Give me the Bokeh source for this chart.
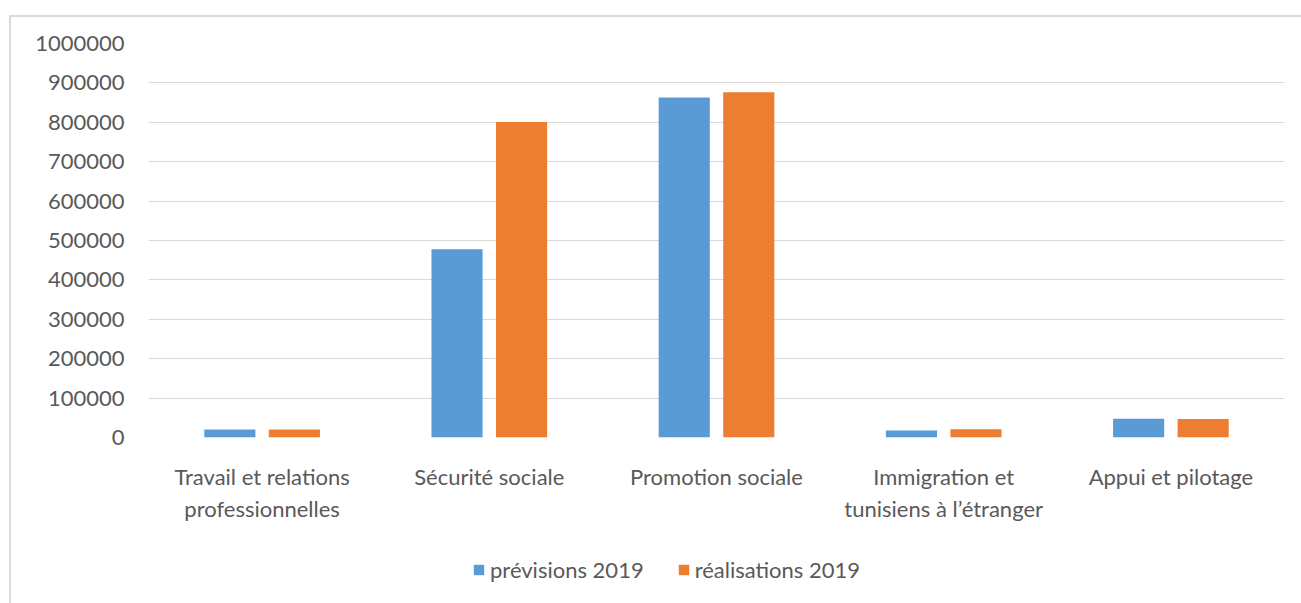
from bokeh.plotting import figure
from bokeh.layouts import column
from bokeh.models import FactorRange, Range1d, Legend, LegendItem, ColumnDataSource, SingleIntervalTicker
from bokeh.transform import dodge
from bokeh.embed import file_html
from bokeh.resources import INLINE

categories = ["Travail et relations\nprofessionnelles", "Sécurité sociale", "Promotion sociale",
              "Immigration et\ntunisiens à l’étranger", "Appui et pilotage"]
previsions_2019 = [20000, 478000, 863000, 17500, 47500]
realisations_2019 = [20500, 801000, 876000, 21000, 47000]
series_names = ["prévisions 2019", "réalisations 2019"]
series_colors = ["#5b9bd5", "#ed7d31"]

FONT = "Lato"
TXT = "#595959"
FS = "22px"

src = ColumnDataSource(dict(cat=categories, prev=previsions_2019, real=realisations_2019))

p = figure(x_range=FactorRange(factors=categories, range_padding=0),
           y_range=Range1d(0, 1000000),
           width=1290, height=520, output_backend="svg", toolbar_location=None,
           min_border_left=137, min_border_right=17, min_border_top=26, min_border_bottom=100)
p.outline_line_color = None

p.vbar(x=dodge("cat", -0.142, range=p.x_range), top="prev", width=0.225, source=src,
       fill_color=series_colors[0], line_color=None)
p.vbar(x=dodge("cat", 0.142, range=p.x_range), top="real", width=0.225, source=src,
       fill_color=series_colors[1], line_color=None)

p.yaxis.ticker = SingleIntervalTicker(interval=100000)
p.yaxis.formatter.use_scientific = False
p.ygrid.grid_line_color = "#d9d9d9"
p.ygrid.grid_line_width = 1
p.xgrid.grid_line_color = None
for ax in (p.xaxis, p.yaxis):
    ax.axis_line_color = None
    ax.major_tick_line_color = None
    ax.minor_tick_line_color = None
    ax.major_label_text_font = FONT
    ax.major_label_text_font_size = FS
    ax.major_label_text_color = TXT
p.yaxis.major_label_standoff = 18
p.xaxis.major_label_standoff = 19

# legend strip
lf = figure(width=1290, height=66, output_backend="svg", toolbar_location=None,
            x_range=Range1d(0, 1), y_range=Range1d(0, 1),
            x_axis_location=None, y_axis_location=None,
            min_border_left=0, min_border_right=0, min_border_top=0, min_border_bottom=0)
lf.outline_line_color = None
lf.grid.visible = False
lsrc = ColumnDataSource(dict(x=[-1.0], top=[-1.0]))
lr1 = lf.vbar(x="x", top="top", bottom="top", width=0.001, source=lsrc,
              fill_color=series_colors[0], line_color=None)
lr2 = lf.vbar(x="x", top="top", bottom="top", width=0.001, source=lsrc,
              fill_color=series_colors[1], line_color=None)

legend = Legend(items=[LegendItem(label=series_names[0], renderers=[lr1], index=0),
                       LegendItem(label=series_names[1], renderers=[lr2], index=0)],
                orientation="horizontal", location=(324, 20),
                glyph_width=13, glyph_height=13, label_standoff=5, spacing=33,
                padding=0, margin=0, border_line_alpha=0, background_fill_alpha=0,
                label_text_font=FONT, label_text_font_size=FS, label_text_color=TXT)
lf.add_layout(legend, "center")

layout = column(p, lf, spacing=0,
                styles={"border-top": "2px solid #d9d9d9", "border-left": "2px solid #d9d9d9",
                        "margin-top": "15px", "margin-left": "9px"})

open("out.html", "w").write(file_html(layout, INLINE))
